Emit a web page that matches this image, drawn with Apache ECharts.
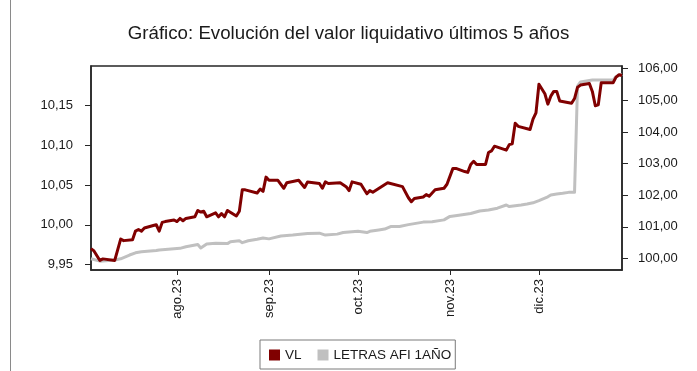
<!DOCTYPE html>
<html>
<head>
<meta charset="utf-8">
<script src="https://cdn.jsdelivr.net/npm/echarts@6/dist/echarts.min.js"></script>
<style>
  html, body { margin: 0; padding: 0; background: #fff; }
  #chart { width: 697px; height: 371px; }
</style>
</head>
<body>
<div id="chart"></div>
<script>
// Valor liquidativo (eje izquierdo)
const vlDates = [
  '2023-07-03','2023-07-04','2023-07-06','2023-07-07','2023-07-11','2023-07-13','2023-07-14','2023-07-17',
  '2023-07-18','2023-07-19','2023-07-20','2023-07-21','2023-07-24','2023-07-25','2023-07-26','2023-07-27',
  '2023-07-28','2023-07-31','2023-08-01','2023-08-02','2023-08-03','2023-08-04','2023-08-07','2023-08-08',
  '2023-08-09','2023-08-10','2023-08-11','2023-08-14','2023-08-15','2023-08-16','2023-08-17','2023-08-18',
  '2023-08-21','2023-08-22','2023-08-23','2023-08-24','2023-08-28','2023-08-29','2023-08-30','2023-08-31',
  '2023-09-01','2023-09-04','2023-09-06','2023-09-07','2023-09-11','2023-09-13','2023-09-14','2023-09-18',
  '2023-09-19','2023-09-20','2023-09-21','2023-09-25','2023-09-27','2023-09-28','2023-09-29','2023-10-02',
  '2023-10-04','2023-10-05','2023-10-06','2023-10-11','2023-10-16','2023-10-18','2023-10-19','2023-10-20',
  '2023-10-23','2023-10-24','2023-10-25','2023-10-27','2023-10-30','2023-10-31','2023-11-02','2023-11-03',
  '2023-11-06','2023-11-07','2023-11-08','2023-11-09','2023-11-10','2023-11-13','2023-11-14','2023-11-15',
  '2023-11-16','2023-11-20','2023-11-21','2023-11-22','2023-11-23','2023-11-24','2023-11-28','2023-11-29',
  '2023-11-30','2023-12-01','2023-12-03','2023-12-04','2023-12-05','2023-12-06','2023-12-07','2023-12-08',
  '2023-12-12','2023-12-13','2023-12-14','2023-12-15','2023-12-18','2023-12-19','2023-12-20','2023-12-21',
  '2023-12-22','2023-12-26','2023-12-27','2023-12-28','2023-12-29'
];
const vlValues = [
  9.970, 9.967, 9.955, 9.957, 9.955, 9.982, 9.980, 9.981,
  9.992, 9.994, 9.992, 9.996, 9.999, 10.000, 9.992, 10.003,
  10.004, 10.006, 10.004, 10.008, 10.005, 10.008, 10.010, 10.018,
  10.016, 10.017, 10.010, 10.015, 10.010, 10.014, 10.010, 10.018,
  10.011, 10.017, 10.044, 10.044, 10.040, 10.045, 10.042, 10.060,
  10.056, 10.056, 10.046, 10.053, 10.056, 10.047, 10.054, 10.052,
  10.046, 10.054, 10.052, 10.053, 10.048, 10.043, 10.054, 10.051,
  10.039, 10.043, 10.041, 10.053, 10.048, 10.034, 10.029, 10.033,
  10.035, 10.038, 10.036, 10.044, 10.046, 10.051, 10.071, 10.071,
  10.067, 10.066, 10.076, 10.080, 10.076, 10.076, 10.091, 10.093,
  10.099, 10.094, 10.101, 10.102, 10.128, 10.124, 10.120, 10.133,
  10.141, 10.177, 10.165, 10.152, 10.162, 10.168, 10.168, 10.156,
  10.153, 10.159, 10.173, 10.176, 10.178, 10.168, 10.150, 10.151,
  10.179, 10.179, 10.186, 10.189, 10.188
];

// Letras AFI 1 año (eje derecho)
const letrasDates = [
  '2023-07-03','2023-07-06','2023-07-11','2023-07-13','2023-07-16','2023-07-18','2023-07-20','2023-07-25',
  '2023-07-26','2023-07-30','2023-08-02','2023-08-04','2023-08-08','2023-08-09','2023-08-11','2023-08-14',
  '2023-08-18','2023-08-19','2023-08-22','2023-08-23','2023-08-25','2023-08-28','2023-08-30','2023-09-01',
  '2023-09-05','2023-09-09','2023-09-14','2023-09-18','2023-09-20','2023-09-24','2023-09-26','2023-10-01',
  '2023-10-04','2023-10-05','2023-10-08','2023-10-10','2023-10-12','2023-10-15','2023-10-18','2023-10-23',
  '2023-10-26','2023-10-30','2023-11-01','2023-11-04','2023-11-08','2023-11-11','2023-11-14','2023-11-17',
  '2023-11-20','2023-11-21','2023-11-25','2023-11-27','2023-11-29','2023-12-01','2023-12-04','2023-12-05',
  '2023-12-07','2023-12-09','2023-12-11','2023-12-13','2023-12-14','2023-12-15','2023-12-19','2023-12-26',
  '2023-12-27','2023-12-29'
];
const letrasValues = [
  99.99, 99.915, 99.95, 99.99, 100.11, 100.18, 100.21, 100.25,
  100.27, 100.30, 100.32, 100.37, 100.44, 100.33, 100.46, 100.48,
  100.47, 100.53, 100.56, 100.50, 100.56, 100.61, 100.65, 100.62,
  100.71, 100.74, 100.79, 100.80, 100.74, 100.77, 100.82, 100.86,
  100.82, 100.86, 100.90, 100.93, 101.01, 101.01, 101.07, 101.15,
  101.16, 101.22, 101.33, 101.37, 101.42, 101.50, 101.53, 101.59,
  101.69, 101.64, 101.69, 101.72, 101.76, 101.83, 101.95, 102.01,
  102.04, 102.06, 102.09, 102.09, 105.45, 105.58, 105.64, 105.64,
  105.75, 105.82
];

// Marcas de los ejes
const monthTicks = ['2023-08-01', '2023-09-01', '2023-10-01', '2023-11-01', '2023-12-01'];
const monthLabels = ['ago.23', 'sep.23', 'oct.23', 'nov.23', 'dic.23'];
const leftTicks = [9.95, 10.00, 10.05, 10.10, 10.15];
const rightTicks = [100, 101, 102, 103, 104, 105, 106];

const seriesNames = ['VL', 'LETRAS AFI 1AÑO'];
const seriesColors = ['#800000', '#c0c0c0'];

// Fechas como milisegundos UTC sobre un eje de valores
const ts = s => Date.parse(s + 'T00:00:00Z');
const monthTs = monthTicks.map(ts);
const comma2 = v => v.toFixed(2).replace('.', ',');

const FONT = '"Liberation Sans", Arial, sans-serif';
const INK = '#1a1a1a';

const chart = echarts.init(document.getElementById('chart'), null, { renderer: 'canvas' });

chart.setOption({
  animation: false,
  backgroundColor: '#ffffff',
  textStyle: { fontFamily: FONT, color: INK },
  title: {
    text: 'Gráfico: Evolución del valor liquidativo últimos 5 años',
    left: 'center',
    top: 19,
    textStyle: { fontFamily: FONT, fontSize: 18.7, fontWeight: 'normal', color: INK }
  },
  legend: {
    left: 260,
    top: 340,
    orient: 'horizontal',
    icon: 'rect',
    itemWidth: 11,
    itemHeight: 11,
    itemGap: 16,
    padding: [8, 4, 7, 9],
    borderColor: '#7a7a7a',
    borderWidth: 1,
    data: seriesNames,
    textStyle: { fontFamily: FONT, fontSize: 13.5, color: INK }
  },
  grid: {
    left: 91,
    right: 75,
    top: 66,
    bottom: 101,
    show: true,
    borderColor: '#262626',
    borderWidth: 1.5,
    containLabel: false
  },
  xAxis: {
    type: 'value',
    min: ts('2023-07-03'),
    max: ts('2023-12-29'),
    axisLine: { show: true, lineStyle: { color: '#262626', width: 1.5 } },
    axisTick: { show: true, length: 5, inside: false, customValues: monthTs, lineStyle: { color: '#262626' } },
    splitLine: { show: false },
    axisLabel: {
      customValues: monthTs,
      rotate: 90,
      margin: 9,
      fontFamily: FONT,
      fontSize: 13,
      color: INK,
      formatter: v => {
        const i = monthTs.indexOf(v);
        return i >= 0 ? monthLabels[i] : '';
      }
    }
  },
  yAxis: [
    {
      type: 'value',
      position: 'left',
      min: 9.943,
      max: 10.2,
      axisLine: { show: true, lineStyle: { color: '#262626', width: 1.5 } },
      axisTick: { show: true, length: 6, customValues: leftTicks, lineStyle: { color: '#262626' } },
      splitLine: { show: false },
      axisLabel: {
        customValues: leftTicks,
        margin: 18,
        fontFamily: FONT,
        fontSize: 13,
        color: INK,
        formatter: v => comma2(v)
      }
    },
    {
      type: 'value',
      position: 'right',
      min: 99.636,
      max: 106.085,
      axisLine: { show: true, lineStyle: { color: '#262626', width: 1.5 } },
      axisTick: { show: true, length: 6, customValues: rightTicks, lineStyle: { color: '#262626' } },
      splitLine: { show: false },
      axisLabel: {
        customValues: rightTicks,
        margin: 16,
        fontFamily: FONT,
        fontSize: 13,
        color: INK,
        formatter: v => comma2(v)
      }
    }
  ],
  series: [
    {
      name: seriesNames[0],
      type: 'line',
      yAxisIndex: 0,
      z: 4,
      symbol: 'none',
      color: seriesColors[0],
      lineStyle: { color: seriesColors[0], width: 3, join: 'round' },
      data: vlDates.map((d, i) => [ts(d), vlValues[i]])
    },
    {
      name: seriesNames[1],
      type: 'line',
      yAxisIndex: 1,
      z: 3,
      symbol: 'none',
      color: seriesColors[1],
      lineStyle: { color: seriesColors[1], width: 3, join: 'round' },
      data: letrasDates.map((d, i) => [ts(d), letrasValues[i]])
    }
  ],
  graphic: [
    {
      type: 'line',
      shape: { x1: 10.5, y1: 0, x2: 10.5, y2: 371 },
      style: { stroke: '#8a8a8a', lineWidth: 1 },
      silent: true
    }
  ]
});
</script>
</body>
</html>
